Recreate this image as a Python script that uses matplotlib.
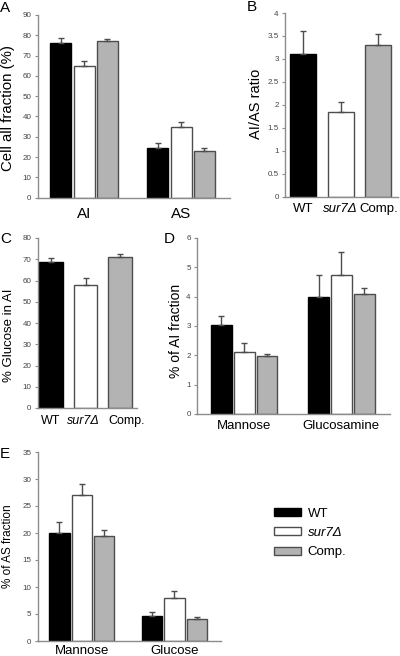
import matplotlib.pyplot as plt
from matplotlib.patches import Patch
import numpy as np

plt.rcParams['font.family'] = ['Liberation Sans', 'DejaVu Sans']

strains = ["WT", "sur7\u0394", "Comp."]
colors = ["#000000", "#ffffff", "#b3b3b3"]
edges = ["#000000", "#4d4d4d", "#4d4d4d"]

# panel A
a_groups = ["AI", "AS"]
a_vals = [[76, 24.5], [65, 35], [77, 23]]
a_err = [[2.5, 2.5], [2.5, 2.5], [1.0, 1.5]]

# panel B
b_vals = [3.1, 1.85, 3.3]
b_err = [0.5, 0.22, 0.25]

# panel C
c_vals = [68.5, 58, 71]
c_err = [2.0, 3.0, 1.5]

# panel D
d_groups = ["Mannose", "Glucosamine"]
d_vals = [[3.05, 4.0], [2.12, 4.73], [1.99, 4.08]]
d_err = [[0.28, 0.75], [0.31, 0.8], [0.06, 0.2]]

# panel E
e_groups = ["Mannose", "Glucose"]
e_vals = [[20.0, 4.6], [27.0, 8.0], [19.5, 4.0]]
e_err = [[2.1, 0.8], [2.0, 1.2], [1.0, 0.45]]

W, H = 400, 656
fig = plt.figure(figsize=(W / 100, H / 100), dpi=100)


def px_axes(left, top, right, bottom):
    return fig.add_axes([left / W, 1 - bottom / H, (right - left) / W, (bottom - top) / H])


def style(ax, ymax, step, fmt, pad):
    ax.set_ylim(0, ymax)
    ticks = np.arange(0, ymax + step / 2, step)
    ax.set_yticks(ticks)
    ax.set_yticklabels([fmt(t) for t in ticks])
    for s in ["top", "right"]:
        ax.spines[s].set_visible(False)
    for s in ["left", "bottom"]:
        ax.spines[s].set_color("#8c8c8c")
        ax.spines[s].set_linewidth(1.0)
    ax.tick_params(axis="y", length=2.5, width=0.8, color="#8c8c8c",
                   labelsize=5.8, labelcolor="#444444", pad=2)
    ax.tick_params(axis="x", length=0, labelsize=9.5, pad=pad)


def bars(ax, x, vals, errs, width):
    for i in range(3):
        v = np.atleast_1d(vals[i])
        e = np.atleast_1d(errs[i])
        ax.bar(x[i], v, width=width, color=colors[i], edgecolor=edges[i], linewidth=1.0,
               yerr=[np.zeros_like(e), e], capsize=2.3,
               error_kw=dict(ecolor="#4d4d4d", elinewidth=1.0, capthick=1.0), zorder=2)


def grouped(ax, groups, vals, errs, s, w, xlim):
    g = np.arange(len(groups))
    bars(ax, [g + (i - 1) * s for i in range(3)], vals, errs, w)
    ax.set_xticks(g)
    ax.set_xticklabels(groups)
    ax.set_xlim(*xlim)


def ylab(x, y, text, size):
    fig.text(x / W, 1 - y / H, text, rotation=90, ha="center", va="center", fontsize=size)


def letter(x, y, text):
    fig.text(x / W, 1 - y / H, text, ha="left", va="top", fontsize=11)


intfmt = lambda t: "%d" % t
halffmt = lambda t: ("%d" % t) if t == int(t) else ("%g" % t)

# A
axA = px_axes(37.5, 15, 230, 197.7)
grouped(axA, a_groups, a_vals, a_err, 0.24, 0.216, (-0.48, 1.504))
style(axA, 90, 10, intfmt, 7)
axA.tick_params(axis="x", labelsize=11)
ylab(8, 108, "Cell all fraction (%)", 10.8)
letter(0, 1, "A")

# B
axB = px_axes(285, 13, 398, 196.7)
bars(axB, [0, 1, 2], b_vals, b_err, 0.69)
axB.set_xticks([0, 1, 2])
axB.set_xticklabels(strains)
axB.set_xlim(-0.48, 2.52)
style(axB, 4, 0.5, halffmt, 4.5)
axB.get_xticklabels()[1].set_style("italic")
ylab(256, 104, "AI/AS ratio", 10.5)
letter(247, 0, "B")

# C
axC = px_axes(37.5, 238, 136.7, 408)
bars(axC, [0, 1, 2], c_vals, c_err, 0.68)
axC.set_xticks([-0.02, 0.93, 2.2])
axC.set_xticklabels(strains)
axC.set_xlim(-0.39, 2.48)
style(axC, 80, 10, intfmt, 5)
axC.tick_params(axis="x", labelsize=9)
axC.get_xticklabels()[1].set_style("italic")
ylab(9, 335, "% Glucose in AI", 9.5)
letter(0, 232, "C")

# D
axD = px_axes(197, 238, 390, 414)
grouped(axD, d_groups, d_vals, d_err, 0.235, 0.211, (-0.487, 1.5))
style(axD, 6, 1, intfmt, 4)
ylab(176, 331, "% of AI fraction", 10)
letter(164, 232, "D")

# E
axE = px_axes(37.5, 452, 220.7, 641)
grouped(axE, e_groups, e_vals, e_err, 0.241, 0.219, (-0.477, 1.5))
style(axE, 35, 5, intfmt, 3)
ylab(8, 546, "% of AS fraction", 8.5)
letter(0, 447, "E")

handles = [Patch(facecolor=colors[i], edgecolor=edges[i], linewidth=1.0) for i in range(3)]
leg = fig.legend(handles, strains, loc="upper left", bbox_to_anchor=(262 / W, 1 - 496 / H),
                 frameon=False, fontsize=9.5, handlelength=2.05, handleheight=0.55,
                 handletextpad=0.5, labelspacing=0.55)
leg.get_texts()[1].set_style("italic")

fig.savefig("out.png", dpi=100)
